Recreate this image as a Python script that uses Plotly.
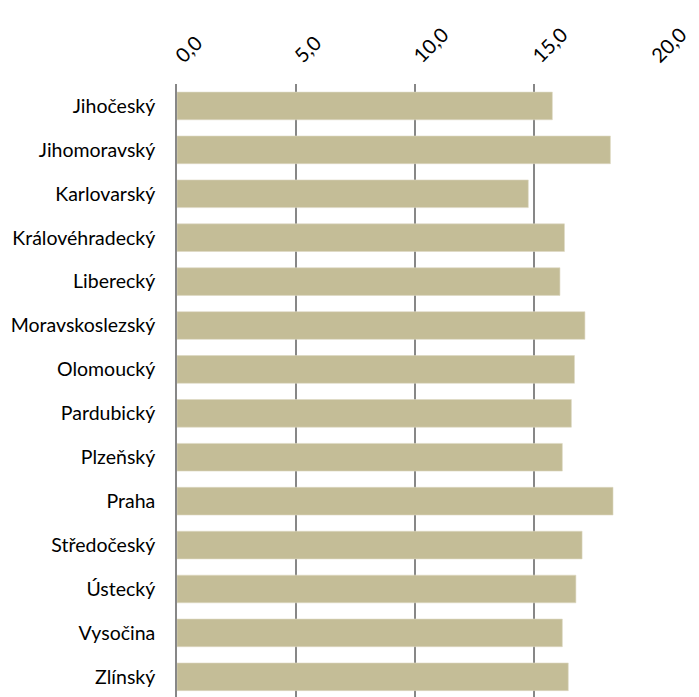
import plotly.graph_objects as go

regions = ["Jihočeský", "Jihomoravský", "Karlovarský", "Královéhradecký", "Liberecký",
           "Moravskoslezský", "Olomoucký", "Pardubický", "Plzeňský", "Praha",
           "Středočeský", "Ústecký", "Vysočina", "Zlínský"]
values = [15.77, 18.21, 14.76, 16.28, 16.09, 17.14, 16.70, 16.57, 16.19, 18.32,
          17.02, 16.76, 16.19, 16.44]
x_ticks = [0, 5, 10, 15, 20]

fig = go.Figure(go.Bar(
    x=values, y=regions, orientation="h",
    marker=dict(color="#C4BD97", line=dict(color="#DDD8C2", width=0.6)),
    width=0.63,
))

fig.update_layout(
    width=699, height=697,
    margin=dict(l=169, r=54, t=76, b=8),
    paper_bgcolor="white", plot_bgcolor="white",
    separators=", ",
    font=dict(family="Lato, Open Sans, sans-serif", size=19, color="#000000"),
    showlegend=False,
    bargap=0.37,
)
fig.update_xaxes(
    side="top", range=[0, 20], tickvals=x_ticks, tickformat=".1f",
    tickangle=-45, showgrid=True, gridcolor="#878787", gridwidth=1.6,
    zeroline=False, showline=False, ticks="", tickfont=dict(size=20),
    automargin=False, ticklabelstandoff=12,
)
fig.update_yaxes(
    type="category", categoryorder="array", categoryarray=regions,
    range=[13.46, -0.5], showgrid=False, zeroline=False,
    showline=True, linecolor="#878787", linewidth=1.6,
    ticks="", ticklabelstandoff=16, tickfont=dict(size=19.5),
    automargin=False,
)

fig.write_html("out.html")
